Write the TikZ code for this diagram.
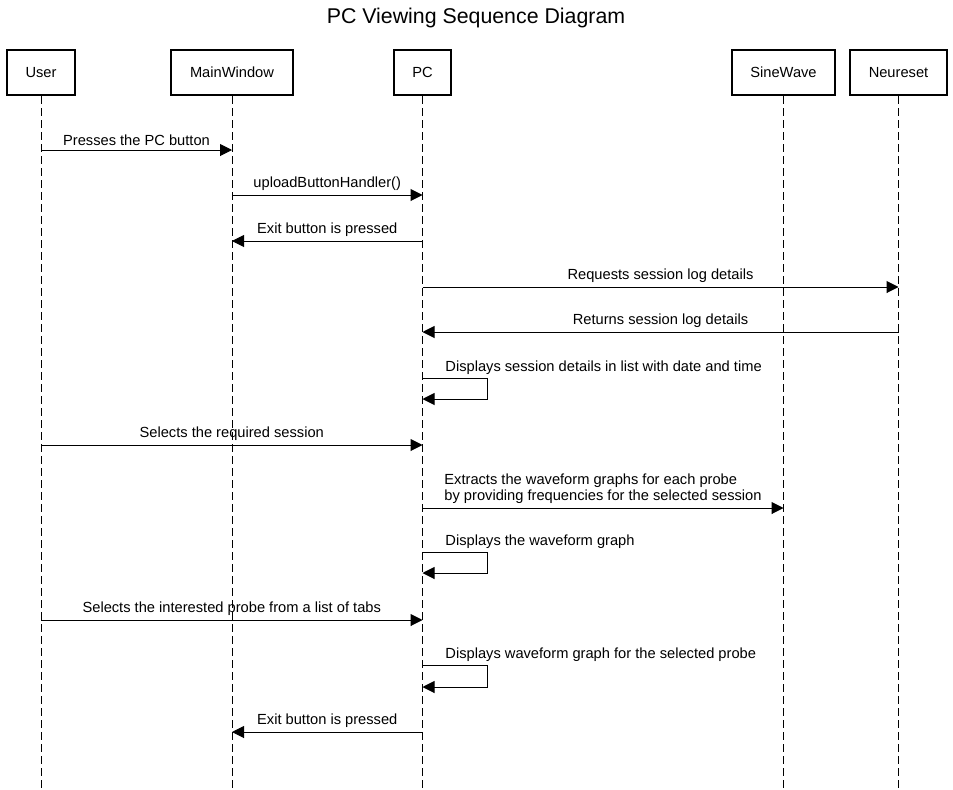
\documentclass[tikz,border=0pt]{standalone}
\usepackage{fontspec}
\setmainfont{Liberation Sans}
\usetikzlibrary{arrows.meta}

\tikzset{
  actor/.style={draw, line width=1.5pt, minimum height=33.75pt, inner sep=0pt, font=\fontsize{11}{13}\selectfont},
  life/.style={line width=0.75pt, dash pattern=on 6pt off 3pt},
  msg/.style={line width=0.75pt, -{Triangle[length=9pt,width=9pt]}},
  lbl/.style={font=\fontsize{11}{12}\selectfont, inner sep=1pt, above=2pt},
  selflbl/.style={font=\fontsize{11}{12}\selectfont, inner sep=1pt, anchor=south west, yshift=1.5pt}
}

\begin{document}
\begin{tikzpicture}[x=0.75pt, y=-0.75pt]
    \useasboundingbox (0,0) rectangle (953,789);

    \node[font=\fontsize{16}{19}\selectfont] (title) at (476,18) {PC Viewing Sequence Diagram};

    % participants
    \node[actor, minimum width=51pt] (user) at (41,72.5) {User};
    \node[actor, minimum width=91.5pt] (mw) at (232,72.5) {MainWindow};
    \node[actor, minimum width=42.75pt] (pc) at (422.5,72.5) {PC};
    \node[actor, minimum width=77.25pt] (sine) at (783.5,72.5) {SineWave};
    \node[actor, minimum width=72.75pt] (neu) at (898.5,72.5) {Neureset};

    % lifelines
    \coordinate (bottom) at (0,789);
    \foreach \p in {user, mw, pc, sine, neu}
        \draw[life] (\p.south) -- (\p |- bottom);

    % message rows
    \coordinate (m1) at (0,150);
    \coordinate (m2) at (0,195);
    \coordinate (m3) at (0,241);
    \coordinate (m4) at (0,287);
    \coordinate (m5) at (0,332);
    \coordinate (m6) at (0,378);
    \coordinate (m7) at (0,445);
    \coordinate (m8) at (0,508);
    \coordinate (m9) at (0,552);
    \coordinate (m10) at (0,620);
    \coordinate (m11) at (0,665);
    \coordinate (m12) at (0,732);

    \draw[msg] (user |- m1) -- node[lbl] {Presses the PC button} (mw |- m1);
    \draw[msg] (mw |- m2) -- node[lbl] {uploadButtonHandler()} (pc |- m2);
    \draw[msg] (pc |- m3) -- node[lbl] {Exit button is pressed} (mw |- m3);
    \draw[msg] (pc |- m4) -- node[lbl] {Requests session log details} (neu |- m4);
    \draw[msg] (neu |- m5) -- node[lbl] {Returns session log details} (pc |- m5);

    \draw[msg] (pc |- m6) -- ++(65,0) -- ++(0,21) -- ++(-65,0);
    \node[selflbl] (d1) at ([xshift=16pt]pc |- m6) {Displays session details in list with date and time};

    \draw[msg] (user |- m7) -- node[lbl] {Selects the required session} (pc |- m7);
    \draw[msg] (pc |- m8) -- node[lbl, align=left] {Extracts the waveform graphs for each probe\\by providing frequencies for the selected session} (sine |- m8);

    \draw[msg] (pc |- m9) -- ++(65,0) -- ++(0,21) -- ++(-65,0);
    \node[selflbl] (d2) at ([xshift=16pt]pc |- m9) {Displays the waveform graph};

    \draw[msg] (user |- m10) -- node[lbl] {Selects the interested probe from a list of tabs} (pc |- m10);

    \draw[msg] (pc |- m11) -- ++(65,0) -- ++(0,22) -- ++(-65,0);
    \node[selflbl] (d3) at ([xshift=16pt]pc |- m11) {Displays waveform graph for the selected probe};

    \draw[msg] (pc |- m12) -- node[lbl] {Exit button is pressed} (mw |- m12);
\end{tikzpicture}
\end{document}
